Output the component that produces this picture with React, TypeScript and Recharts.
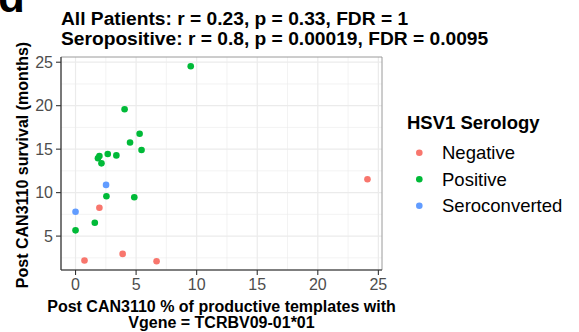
import React from 'react';
import { ScatterChart, Scatter, XAxis, YAxis, CartesianGrid, ReferenceArea } from 'recharts';

// Post-treatment survival vs. share of TCRBV09-01*01 productive templates
const negative = [
  { x: 0.74, y: 2.2 },
  { x: 3.89, y: 2.95 },
  { x: 6.69, y: 2.11 },
  { x: 1.97, y: 8.26 },
  { x: 24.1, y: 11.53 },
];

const positive = [
  { x: 9.51, y: 24.54 },
  { x: 4.05, y: 19.59 },
  { x: 5.29, y: 16.77 },
  { x: 4.5, y: 15.77 },
  { x: 5.45, y: 14.9 },
  { x: 1.85, y: 13.95 },
  { x: 1.97, y: 14.2 },
  { x: 2.66, y: 14.44 },
  { x: 3.37, y: 14.28 },
  { x: 2.14, y: 13.37 },
  { x: 2.55, y: 9.59 },
  { x: 4.85, y: 9.47 },
  { x: 1.59, y: 6.54 },
  { x: 0, y: 5.66 },
];

const seroconverted = [
  { x: 2.52, y: 10.89 },
  { x: 0, y: 7.8 },
];

const xTicks = [0, 5, 10, 15, 20, 25];
const yTicks = [5, 10, 15, 20, 25];
const xMinor = [2.5, 7.5, 12.5, 17.5, 22.5];
const yMinor = [2.5, 7.5, 12.5, 17.5, 22.5];
const xDomain: [number, number] = [-1.2, 25.3];
const yDomain: [number, number] = [1.1, 25.6];

const series = [
  { name: 'Negative', color: '#F8766D', data: negative },
  { name: 'Positive', color: '#00BA38', data: positive },
  { name: 'Seroconverted', color: '#619CFF', data: seroconverted },
];

const titleLines = [
  'All Patients: r = 0.23, p = 0.33, FDR = 1',
  'Seropositive: r = 0.8, p = 0.00019, FDR = 0.0095',
];
const xTitleLines = ['Post CAN3110 % of productive templates with', 'Vgene = TCRBV09-01*01'];
const yTitle = 'Post CAN3110 survival (months)';
const legendTitle = 'HSV1 Serology';

const FONT = '"Liberation Sans", Arial, Helvetica, sans-serif';

const W = 579;
const H = 332;
const plot = { left: 61, right: 382, top: 57, bottom: 270 };

const dot = (color: string) => (props: any) => (
  <circle cx={props.cx} cy={props.cy} r={3.3} fill={color} stroke="none" />
);

export default function App() {
  const cx = (plot.left + plot.right) / 2;
  return (
    <div style={{ position: 'absolute', left: 0, top: 0, width: W, height: H, background: '#fff', fontFamily: FONT }}>
      <ScatterChart
        width={W}
        height={H}
        margin={{ top: plot.top, right: W - plot.right, bottom: 0, left: 0 }}
        style={{ position: 'absolute', left: 0, top: 0 }}
      >
        <CartesianGrid
          horizontalValues={yMinor}
          verticalValues={xMinor}
          stroke="#EBEBEB"
          strokeWidth={0.6}
        />
        <CartesianGrid
          horizontalValues={yTicks}
          verticalValues={xTicks}
          stroke="#EBEBEB"
          strokeWidth={1.2}
        />
        <ReferenceArea
          x1={xDomain[0]}
          x2={xDomain[1]}
          y1={yDomain[0]}
          y2={yDomain[1]}
          fill="none"
          stroke="#9a9a9a"
          strokeWidth={1}
          ifOverflow="visible"
        />
        <XAxis
          type="number"
          dataKey="x"
          domain={xDomain}
          ticks={xTicks}
          allowDataOverflow
          height={H - plot.bottom}
          tickSize={5}
          tickMargin={4}
          axisLine={{ stroke: '#333333', strokeWidth: 1.1 }}
          tickLine={{ stroke: '#333333', strokeWidth: 1.1 }}
          tick={{ fill: '#4D4D4D', fontSize: 16, fontFamily: FONT }}
          interval={0}
        />
        <YAxis
          type="number"
          dataKey="y"
          domain={yDomain}
          ticks={yTicks}
          allowDataOverflow
          width={plot.left}
          tickSize={5}
          tickMargin={3}
          axisLine={{ stroke: '#333333', strokeWidth: 1.1 }}
          tickLine={{ stroke: '#333333', strokeWidth: 1.1 }}
          tick={{ fill: '#4D4D4D', fontSize: 16, fontFamily: FONT }}
          interval={0}
        />
        {series.map((s) => (
          <Scatter
            key={s.name}
            name={s.name}
            data={s.data}
            fill={s.color}
            shape={dot(s.color)}
            isAnimationActive={false}
          />
        ))}
      </ScatterChart>
      <svg
        width={W}
        height={H}
        style={{ position: 'absolute', left: 0, top: 0, pointerEvents: 'none' }}
        fontFamily={FONT}
      >
        <text x={-2} y={12} fontSize={44} fontWeight="bold" fill="#000">d</text>
        {titleLines.map((t, i) => (
          <text key={t} x={plot.left} y={25 + i * 19.5} fontSize={19.2} fontWeight="bold" fill="#000">
            {t}
          </text>
        ))}
        <text
          transform="translate(27.5,165) rotate(-90)"
          textAnchor="middle"
          fontSize={16}
          fontWeight="bold"
          fill="#000"
        >
          {yTitle}
        </text>
        {xTitleLines.map((t, i) => (
          <text key={t} x={cx} y={311.5 + i * 16.5} textAnchor="middle" fontSize={16} fontWeight="bold" fill="#000">
            {t}
          </text>
        ))}
        <text x={407} y={129} fontSize={18.5} fontWeight="bold" fill="#000">{legendTitle}</text>
        {series.map((s, i) => (
          <g key={s.name}>
            <circle cx={419.3} cy={152.7 + i * 26.5} r={3.3} fill={s.color} />
            <text x={442} y={152.7 + i * 26.5} dy="0.35em" fontSize={18.5} fill="#000">
              {s.name}
            </text>
          </g>
        ))}
      </svg>
    </div>
  );
}
